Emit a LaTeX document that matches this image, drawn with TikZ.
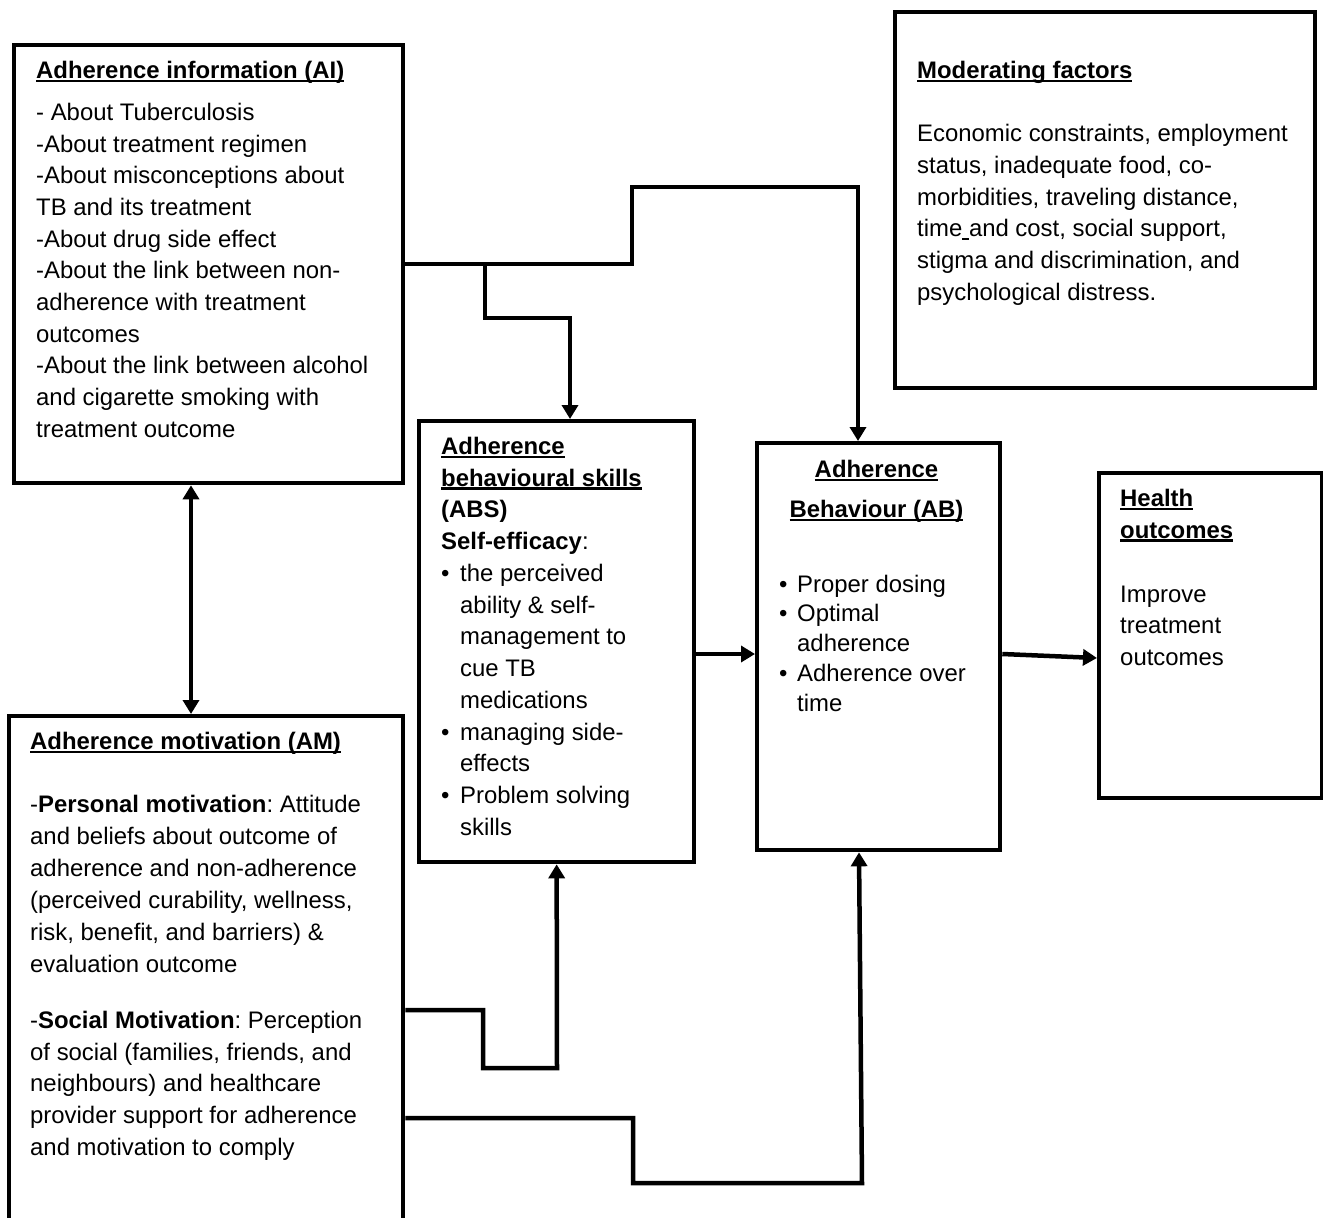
\documentclass[tikz,border=0pt]{standalone}
\usepackage{fontspec}
\setmainfont{Liberation Sans}
\usetikzlibrary{arrows.meta}
\frenchspacing
\newsavebox\myulbox
\newcommand\myul[1]{\sbox\myulbox{#1}\rlap{\rule[-3.5pt]{\wd\myulbox}{2.2pt}}\usebox\myulbox}
\newcommand\bul{\makebox[19pt][l]{•}}
\newcommand\ind{\hspace*{19pt}}
\newcommand\bulb{\makebox[18pt][l]{•}}
\newcommand\indb{\hspace*{18pt}}
\begin{document}
\begin{tikzpicture}[x=1pt,y=-1pt,line join=miter,
  box/.style={draw,line width=4.3pt,inner sep=0pt,anchor=north west},
  txt/.style={anchor=north west,inner sep=0pt,align=left,font=\fontsize{23.9}{31.7}\selectfont},
  conn/.style={line width=4.5pt},
  tip/.style={-{Triangle[length=14pt,width=16pt]}},
  tips/.style={{Triangle[length=14pt,width=16pt]}-{Triangle[length=14pt,width=16pt]}}]
\useasboundingbox (0,0) rectangle (1323,1218);
\clip (0,0) rectangle (1323,1218);
\fill[white] (0,0) rectangle (1323,1218);
\frenchspacing

% boxes
\node[box,minimum width=389pt,minimum height=438pt] (ai) at (12,43) {};
\node[box,minimum width=420pt,minimum height=376pt] (mf) at (893,10) {};
\node[box,minimum width=275pt,minimum height=441pt] (abs) at (417,419) {};
\node[box,minimum width=243pt,minimum height=407pt] (ab) at (755,441) {};
\node[box,minimum width=223pt,minimum height=325pt] (ho) at (1097,471) {};
\node[box,minimum width=394pt,minimum height=560pt] (am) at (7,714) {};

% texts
\node[txt] (aititle) at (36,56) {\strut\myul{\textbf{Adherence information (AI)}}};
\node[txt] (aibody) at (36,98) {\strut- About Tuberculosis\\
-About treatment regimen\\
-About misconceptions about\\
TB and its treatment\\
-About drug side effect\\
-About the link between non-\\
adherence with treatment\\
outcomes\\
-About the link between alcohol\\
and cigarette smoking with\\
treatment outcome};

\node[txt] (mftitle) at (917,56) {\strut\myul{\textbf{Moderating factors}}};
\node[txt,font=\fontsize{23.9}{31.8}\selectfont] (mfbody) at (917,119) {\strut Economic constraints, employment\\
status, inadequate food, co-\\
morbidities, traveling distance,\\
time\myul{\ }and cost, social support,\\
stigma and discrimination, and\\
psychological distress.};

\node[txt,font=\fontsize{23.9}{31.75}\selectfont] (abstext) at (441,432) {\strut\myul{\textbf{Adherence}}\\
\myul{\textbf{behavioural skills}}\\
\textbf{(ABS)}\\
\textbf{Self-efficacy}:\\
\bul the perceived\\
\ind ability \& self-\\
\ind management to\\
\ind cue TB\\
\ind medications\\
\bul managing side-\\
\ind effects\\
\bul Problem solving\\
\ind skills};

\node[txt,anchor=north,align=center] (abtitle) at (876.5,455) {\strut\myul{\textbf{Adherence}}\\[8.3pt]
\myul{\textbf{Behaviour (AB)}}};
\node[txt,font=\fontsize{23.9}{29.8}\selectfont] (abbody) at (779,571) {\strut\bulb Proper dosing\\
\bulb Optimal\\
\indb adherence\\
\bulb Adherence over\\
\indb time};

\node[txt] (hotitle) at (1120,484) {\strut\myul{\textbf{Health}}\\
\myul{\textbf{outcomes}}};
\node[txt,font=\fontsize{23.9}{31.5}\selectfont] (hobody) at (1120,580) {\strut Improve\\
treatment\\
outcomes};

\node[txt] (amtitle) at (30,727) {\strut\myul{\textbf{Adherence motivation (AM)}}};
\node[txt,font=\fontsize{23.9}{32}\selectfont] (amp1) at (30,790) {\strut-\textbf{Personal motivation}: Attitude\\
and beliefs about outcome of\\
adherence and non-adherence\\
(perceived curability, wellness,\\
risk, benefit, and barriers) \&\\
evaluation outcome};
\node[txt,font=\fontsize{23.9}{31.75}\selectfont] (amp2) at (30,1006) {\strut-\textbf{Social Motivation}: Perception\\
of social (families, friends, and\\
neighbours) and healthcare\\
provider support for adherence\\
and motivation to comply};

% waypoints
\coordinate (k1) at (632,187);
\coordinate (k2) at (858,187);
\coordinate (b0) at (485,262);
\coordinate (b1) at (570,318);
\coordinate (m) at (191,0);
\coordinate (c1) at (0,654);
\coordinate (d1) at (0,654);
\coordinate (d2) at (0,658);
\coordinate (e1) at (0,1010);
\coordinate (e2) at (483,1068);
\coordinate (e3) at (557,1068);
\coordinate (f1) at (0,1118);
\coordinate (f2) at (633,1183);
\coordinate (f3) at (862,1183);
\coordinate (g) at (859,0);

% connectors
\draw[conn,tip] (ai.east) -| (k1) -- (k2) -- (k2 |- ab.north);
\draw[conn,tip] (b0) |- (b1) -- (b1 |- abs.north);
\draw[conn,tips] (ai.south -| m) -- (am.north -| m);
\draw[conn,tip] (abs.east |- c1) -- (ab.west |- c1);
\draw[conn,tip] (ab.east |- d1) -- (ho.west |- d2);
\draw[conn,tip] (am.east |- e1) -| (e2) -- (e3) -- (abs.south);
\draw[conn,tip] (am.east |- f1) -| (f2) -- (f3) -- (ab.south -| g);
\end{tikzpicture}
\end{document}
